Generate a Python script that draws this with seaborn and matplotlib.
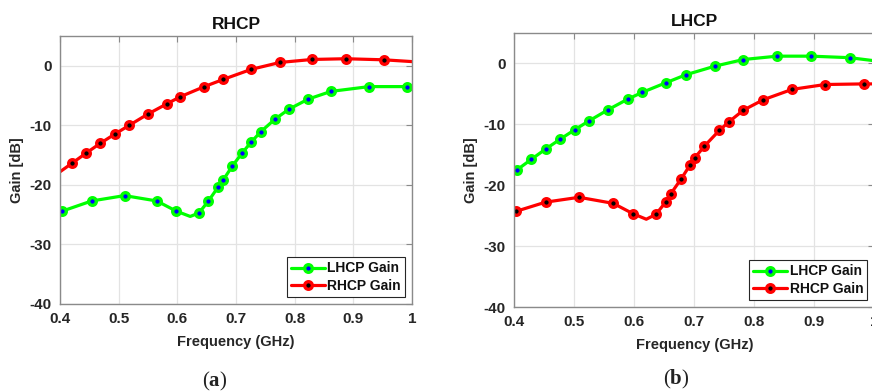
import numpy as np
import pandas as pd
import matplotlib
matplotlib.use("Agg")
import matplotlib.pyplot as plt
import seaborn as sns

# ---------------- data ----------------
# (a) RHCP excitation
a_rhcp_freq = [0.400, 0.420, 0.444, 0.469, 0.493, 0.518, 0.550, 0.582, 0.605, 0.646,
               0.678, 0.726, 0.775, 0.830, 0.887, 0.952, 1.000]
a_rhcp_gain = [-17.8, -16.4, -14.7, -13.0, -11.5, -10.0, -8.1, -6.4, -5.2, -3.5,
               -2.3, -0.6, 0.56, 1.06, 1.18, 1.0, 0.7]
a_rhcp_mark = list(range(1, 16))

a_lhcp_freq = [0.400, 0.404, 0.454, 0.510, 0.565, 0.598, 0.622, 0.637, 0.653, 0.670,
               0.678, 0.694, 0.710, 0.726, 0.742, 0.766, 0.790, 0.823, 0.862, 0.927,
               0.991, 1.000]
a_lhcp_gain = [-24.5, -24.4, -22.7, -21.8, -22.7, -24.4, -25.3, -24.7, -22.7, -20.3,
               -19.2, -16.8, -14.7, -12.8, -11.1, -9.0, -7.3, -5.6, -4.3, -3.5,
               -3.5, -3.5]
a_lhcp_mark = [1, 2, 3, 4, 5, 7, 8, 9, 10, 11, 12, 13, 14, 15, 16, 17, 18, 19, 20]

# (b) LHCP excitation
b_lhcp_freq = [0.4045, 0.428, 0.452, 0.476, 0.501, 0.524, 0.557, 0.589, 0.613, 0.653,
               0.686, 0.734, 0.782, 0.838, 0.895, 0.959, 1.000]
b_lhcp_gain = [-17.5, -15.8, -14.1, -12.5, -10.9, -9.5, -7.6, -5.9, -4.8, -3.2,
               -1.9, -0.5, 0.6, 1.15, 1.15, 0.9, 0.4]
b_lhcp_mark = list(range(0, 16))

b_rhcp_freq = [0.400, 0.403, 0.452, 0.508, 0.565, 0.598, 0.620, 0.636, 0.653, 0.661,
               0.678, 0.693, 0.701, 0.717, 0.742, 0.758, 0.782, 0.815, 0.863, 0.918,
               0.983, 1.000]
b_rhcp_gain = [-24.4, -24.3, -22.8, -22.0, -23.0, -24.7, -25.6, -24.8, -22.7, -21.4,
               -19.0, -16.7, -15.5, -13.6, -11.0, -9.6, -7.7, -6.0, -4.3, -3.5,
               -3.4, -3.4]
b_rhcp_mark = [1, 2, 3, 4, 5, 7, 8, 9, 10, 11, 12, 13, 14, 15, 16, 17, 18, 19, 20]

x_ticks = [0.4, 0.5, 0.6, 0.7, 0.8, 0.9, 1.0]
x_tick_labels = ["0.4", "0.5", "0.6", "0.7", "0.8", "0.9", "1"]
y_ticks = [-40, -30, -20, -10, 0]
y_tick_labels = ["-40", "-30", "-20", "-10", "0"]
titles = ["RHCP", "LHCP"]
captions = ["a", "b"]

# ---------------- style ----------------
sns.set_theme(style="whitegrid")
plt.rcParams["font.family"] = ["Liberation Sans", "DejaVu Sans"]
plt.rcParams["mathtext.fontset"] = "custom"
plt.rcParams["mathtext.bf"] = "Liberation Serif:bold"
plt.rcParams["mathtext.rm"] = "Liberation Serif"

GREEN = "#00ff00"
RED = "#ff0000"
SPINE = "#8a8a8a"

fig = plt.figure(figsize=(8.72, 3.92), dpi=100)
ax_a = fig.add_axes([0.0688, 0.2245, 0.4037, 0.6837])
ax_b = fig.add_axes([0.5898, 0.2168, 0.4128, 0.6998])


def draw(ax, f, g, mark, color, face, label):
    df = pd.DataFrame({"f": f, "g": g})
    sns.lineplot(data=df, x="f", y="g", ax=ax, color=color, lw=2.3,
                 marker="o", markevery=mark, markersize=5.5,
                 markerfacecolor=face, markeredgecolor=color,
                 markeredgewidth=2.4, label=label, sort=False,
                 estimator=None)


draw(ax_a, a_lhcp_freq, a_lhcp_gain, a_lhcp_mark, GREEN, "#0000ff", "LHCP Gain")
draw(ax_a, a_rhcp_freq, a_rhcp_gain, a_rhcp_mark, RED, "#000000", "RHCP Gain")
draw(ax_b, b_lhcp_freq, b_lhcp_gain, b_lhcp_mark, GREEN, "#0000ff", "LHCP Gain")
draw(ax_b, b_rhcp_freq, b_rhcp_gain, b_rhcp_mark, RED, "#000000", "RHCP Gain")

for ax, title in zip([ax_a, ax_b], titles):
    ax.set_xlim(0.4, 1.0)
    ax.set_ylim(-40, 5)
    ax.set_xticks(x_ticks)
    ax.set_xticklabels(x_tick_labels)
    ax.set_yticks(y_ticks)
    ax.set_yticklabels(y_tick_labels)
    ax.set_facecolor("white")
    ax.grid(True, color="#e3e3e3", lw=0.9)
    for s in ax.spines.values():
        s.set_visible(True)
        s.set_color(SPINE)
        s.set_linewidth(1.0)
    ax.tick_params(axis="both", direction="in", length=4, width=0.8, color=SPINE,
                   labelsize=11, top=True, right=True, labelcolor="#262626", pad=6)
    for lab in ax.get_xticklabels() + ax.get_yticklabels():
        lab.set_fontweight("bold")
    ax.set_title(title, fontsize=12.5, fontweight="bold", color="#111111", pad=5)
    ax.set_xlabel("Frequency (GHz)", fontsize=10.5, fontweight="bold", color="#262626", labelpad=6)
    ax.set_ylabel("Gain [dB]", fontsize=10.5, fontweight="bold", color="#262626", labelpad=4)
    leg = ax.legend(loc="lower right", fontsize=10, frameon=True, fancybox=False,
                    handlelength=2.4, handletextpad=0.2, borderpad=0.3,
                    labelspacing=0.25, borderaxespad=0.5, numpoints=1)
    leg.get_frame().set_edgecolor("#262626")
    leg.get_frame().set_linewidth(0.8)
    leg.get_frame().set_alpha(1)
    for t in leg.get_texts():
        t.set_fontweight("bold")
        t.set_color("#111111")

fig.text(215 / 872, 1 - 381 / 392, r"($\mathbf{" + captions[0] + r"}$)", ha="center", va="center",
         fontsize=15, family="Liberation Serif", color="#222222")
fig.text(676 / 872, 1 - 379 / 392, r"($\mathbf{" + captions[1] + r"}$)", ha="center", va="center",
         fontsize=15, family="Liberation Serif", color="#222222")

fig.savefig("out.png", dpi=100)
